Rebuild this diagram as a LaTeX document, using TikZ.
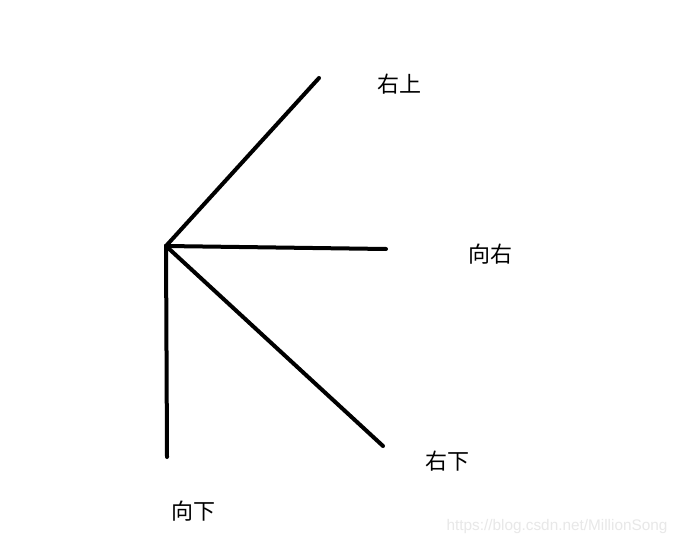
\documentclass[tikz,border=0pt]{standalone}
\usepackage{fontspec}
\setmainfont{Liberation Sans}
\newfontfamily\cjk{Noto Sans CJK SC}
\definecolor{wm}{RGB}{232,232,232}
\begin{document}
\begin{tikzpicture}[x=0.75pt,y=-0.75pt,
  stroke/.style={line width=3pt,line cap=round,black},
  lbl/.style={inner sep=0pt,font=\cjk\fontsize{16.5pt}{18pt}\selectfont}]
\useasboundingbox[fill=white] (0,0) rectangle (680,545);
\coordinate (o) at (166,246);
\coordinate (ur) at (319,78);
\coordinate (r) at (386,249);
\coordinate (dr) at (383,446);
\coordinate (d) at (167,457);
\draw[stroke] (o) -- (ur);
\draw[stroke] (o) -- (r);
\draw[stroke] (o) -- (dr);
\draw[stroke] (o) -- (d);
\node[lbl] (lur) at (399,84) {右上};
\node[lbl] (lr) at (490,254) {向右};
\node[lbl] (ldr) at (447,461) {右下};
\node[lbl] (ld) at (193,511) {向下};
\node[inner sep=0pt,text=wm,font=\fontsize{11.5pt}{13pt}\selectfont] (wmk) at (557,527) {https://blog.csdn.net/MillionSong};
\end{tikzpicture}
\end{document}
